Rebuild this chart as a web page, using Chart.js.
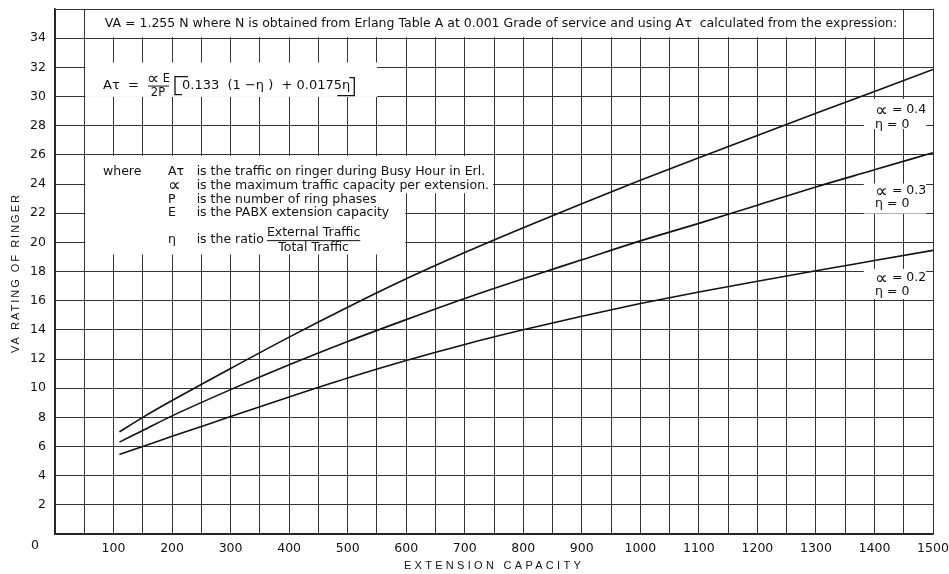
<!DOCTYPE html>
<html>
<head>
<meta charset="utf-8">
<script src="https://cdn.jsdelivr.net/npm/chart.js@4.4.1/dist/chart.umd.min.js"></script>
<style>
  html, body { margin: 0; padding: 0; background: #fff; }
  #wrap { width: 949px; height: 574px; }
</style>
</head>
<body>
<div id="wrap"><canvas id="ringerChart"></canvas></div>
<script>
// valores
const extensionCapacity = [110, 150, 200, 300, 400, 500, 600, 700, 800, 900, 1000, 1100, 1200, 1300, 1400, 1500];
const vaAlpha04 = [7.0, 8.0, 9.15, 11.35, 13.5, 15.55, 17.5, 19.3, 21.0, 22.65, 24.25, 25.8, 27.33, 28.85, 30.35, 31.85];
const vaAlpha03 = [6.3, 7.1, 8.1, 9.9, 11.6, 13.2, 14.7, 16.15, 17.5, 18.8, 20.1, 21.3, 22.55, 23.8, 24.97, 26.15];
const vaAlpha02 = [5.45, 6.0, 6.7, 8.05, 9.4, 10.7, 11.9, 13.0, 14.0, 14.93, 15.8, 16.6, 17.33, 18.05, 18.75, 19.45];
const alphaLabels = ['0.4', '0.3', '0.2'];

const FONT = "'DejaVu Sans', Verdana, sans-serif";
const FONT2 = "'Liberation Sans', Arial, Helvetica, sans-serif";

function pontos(ys) {
    return extensionCapacity.map((x, i) => ({ x: x, y: ys[i] }));
}

// caixas brancas sobre a grade [x0, x1, y0, y1] em unidades do gráfico
const caixasBrancas = [
    [50, 1450, 34, 36],
    [50, 552, 29.9, 32.4],
    [50, 750, 23.3, 26],
    [50, 600, 19.1, 23.45],
    [1380, 1490, 27.7, 29.9],
    [1380, 1490, 21.9, 24.1],
    [1380, 1490, 16.05, 18.25]
];

// desenha o símbolo alfa (∝) maior, como no original
function alfa(ctx, x, y, size) {
    const antes = ctx.font;
    ctx.font = size + 'px ' + FONT;
    ctx.fillText('\u221D', x, y + 1);
    const w = ctx.measureText('\u221D').width;
    ctx.font = antes;
    return w;
}

const anotacoes = {
    id: 'anotacoes',
    beforeDatasetsDraw(chart) {
        const { ctx, scales: { x, y } } = chart;
        const X = v => x.getPixelForValue(v);
        const Y = v => y.getPixelForValue(v);
        ctx.save();
        ctx.fillStyle = '#fff';
        caixasBrancas.forEach(b => {
            ctx.fillRect(X(b[0]) + 1, Y(b[3]) + 1, X(b[1]) - X(b[0]) - 2, Y(b[2]) - Y(b[3]) - 2);
        });

        ctx.fillStyle = '#111';
        ctx.strokeStyle = '#111';
        ctx.textBaseline = 'middle';
        ctx.textAlign = 'left';

        // cabeçalho
        ctx.font = '12.5px ' + FONT;
        ctx.fillText('VA = 1.255 N where N is obtained from Erlang Table A at 0.001 Grade of service and using A\u03C4  calculated from the expression:', X(85), Y(34.97));

        // fórmula
        const fx = X(82), fy = Y(30.75);
        ctx.font = '13px ' + FONT;
        ctx.fillText('A\u03C4  =', fx, fy);
        ctx.font = '11.5px ' + FONT;
        const aw = alfa(ctx, fx + 44, fy - 7, 17);
        ctx.fillText(' E', fx + 44 + aw, fy - 7);
        ctx.textAlign = 'center';
        ctx.fillText('2P', fx + 55, fy + 7);
        ctx.lineWidth = 1;
        ctx.beginPath();
        ctx.moveTo(fx + 45, fy + 0.5); ctx.lineTo(fx + 66, fy + 0.5);
        ctx.stroke();
        ctx.textAlign = 'left';
        ctx.font = '13px ' + FONT;
        const expr = '0.133  (1 \u2212\u03B7 )  + 0.0175\u03B7';
        const ew = ctx.measureText(expr).width;
        ctx.fillText(expr, fx + 79, fy);
        const bx = fx + 79 + ew + 4;
        ctx.lineWidth = 1.3;
        ctx.beginPath();
        ctx.moveTo(fx + 85, fy - 9); ctx.lineTo(fx + 72, fy - 9); ctx.lineTo(fx + 72, fy + 9); ctx.lineTo(fx + 79, fy + 9);
        ctx.moveTo(bx - 5, fy - 8); ctx.lineTo(bx, fy - 8); ctx.lineTo(bx, fy + 10); ctx.lineTo(bx - 17, fy + 10);
        ctx.stroke();

        // legenda "where"
        const linhas = [
            ['A\u03C4', 'is the traffic on ringer during Busy Hour in Erl.', 24.85],
            ['', 'is the maximum traffic capacity per extension.', 23.9],
            ['P', 'is the number of ring phases', 22.95],
            ['E', 'is the PABX extension capacity', 22.05]
        ];
        ctx.font = '12.5px ' + FONT;
        ctx.fillText('where', X(82), Y(24.85));
        linhas.forEach(l => {
            if (l[0]) ctx.fillText(l[0], X(193), Y(l[2]));
            ctx.fillText(l[1], X(242), Y(l[2]));
        });
        alfa(ctx, X(193), Y(23.9), 18);
        const ry = Y(20.15);
        ctx.fillText('\u03B7', X(193), ry);
        ctx.fillText('is the ratio', X(242), ry);
        const rx = X(242) + ctx.measureText('is the ratio').width + 3;
        const fw = ctx.measureText('External Traffic').width;
        ctx.fillText('External Traffic', rx, ry - 7.5);
        ctx.fillText('Total Traffic', rx + (fw - ctx.measureText('Total Traffic').width) / 2, ry + 8);
        ctx.lineWidth = 1;
        ctx.beginPath();
        ctx.moveTo(rx, ry + 0.5); ctx.lineTo(rx + fw, ry + 0.5);
        ctx.stroke();

        // rótulos das curvas
        ctx.font = '12.5px ' + FONT;
        const rotulos = [[29.07, 28.05], [23.52, 22.63], [17.55, 16.59]];
        rotulos.forEach((r, i) => {
            const w = alfa(ctx, X(1401), Y(r[0]), 18);
            ctx.fillText(' = ' + alphaLabels[i], X(1401) + w, Y(r[0]));
            ctx.fillText('\u03B7 = 0', X(1401), Y(r[1]));
        });

        // origem e títulos dos eixos
        ctx.textAlign = 'center';
        ctx.font = '12.5px ' + FONT;
        ctx.fillText('0', 35, y.bottom + 12);
        ctx.font = '11px ' + FONT2;
        ctx.letterSpacing = '3.3px';
        ctx.fillText('EXTENSION CAPACITY', 494, 566);
        ctx.letterSpacing = '2px';
        ctx.translate(16, 273);
        ctx.rotate(-Math.PI / 2);
        ctx.fillText('VA RATING OF RINGER', 0, 0);
        ctx.restore();
    }
};

const ctx = document.getElementById('ringerChart').getContext('2d');
const ringerChart = new Chart(ctx, {
    type: 'line',
    data: {
        datasets: [vaAlpha04, vaAlpha03, vaAlpha02].map((serie, i) => ({
            label: '\u221D = ' + alphaLabels[i],
            data: pontos(serie),
            borderColor: '#111',
            borderWidth: 1.6,
            pointRadius: 0,
            cubicInterpolationMode: 'monotone',
            fill: false
        }))
    },
    options: {
        responsive: true,
        maintainAspectRatio: false,
        animation: false,
        devicePixelRatio: 1,
        layout: { padding: { top: 9, right: 16, left: 0, bottom: 0 } },
        plugins: { legend: { display: false }, tooltip: { enabled: false } },
        scales: {
            x: {
                type: 'linear',
                min: 0,
                max: 1500,
                afterFit: s => { s.height = 40; s.paddingLeft = 0; s.paddingRight = 0; },
                grid: { color: '#333', lineWidth: 1, drawTicks: false },
                border: { color: '#222', width: 1.5 },
                ticks: {
                    stepSize: 50,
                    autoSkip: false,
                    maxRotation: 0,
                    padding: 7,
                    color: '#111',
                    font: { family: FONT, size: 12.5 },
                    callback: v => (v % 100 === 0 && v > 0) ? v : ''
                }
            },
            y: {
                min: 0,
                max: 36,
                afterFit: s => { s.width = 55; s.paddingTop = 0; s.paddingBottom = 0; },
                grid: { color: '#333', lineWidth: 1, drawTicks: false },
                border: { color: '#222', width: 1.5 },
                ticks: {
                    stepSize: 2,
                    padding: 9,
                    color: '#111',
                    font: { family: FONT, size: 12.5 },
                    callback: v => (v === 0 || v === 36) ? '' : v
                }
            }
        }
    },
    plugins: [anotacoes]
});
</script>
</body>
</html>
